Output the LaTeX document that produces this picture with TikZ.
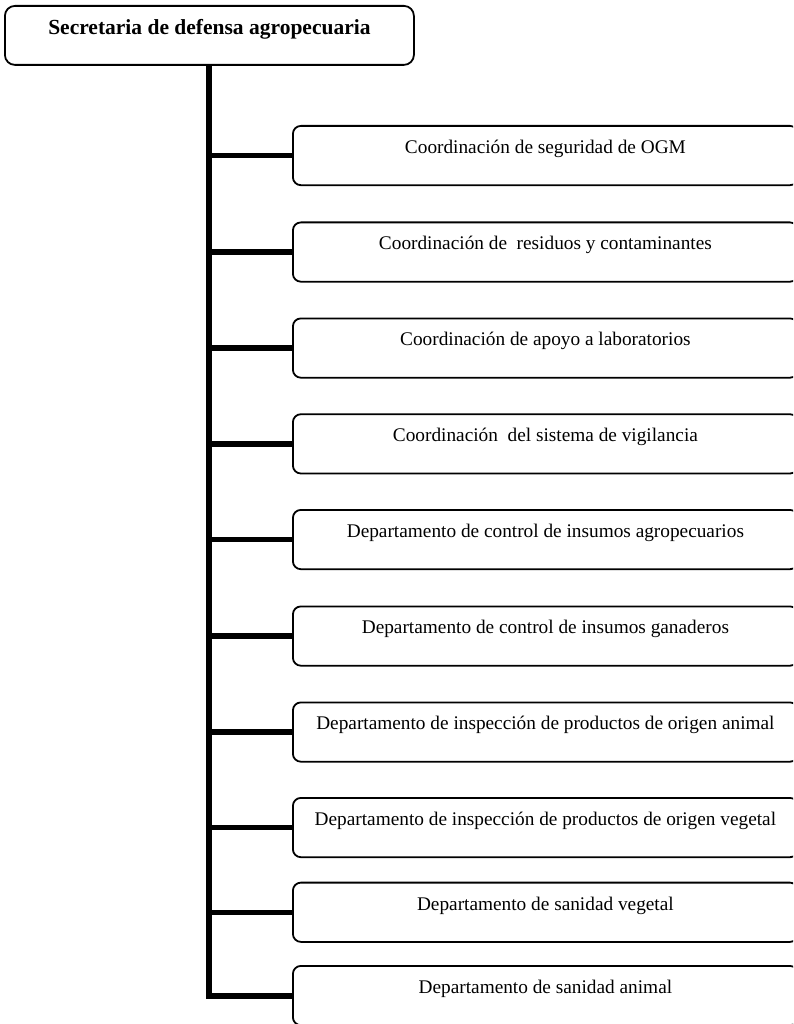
\documentclass[tikz,border=0pt]{standalone}
\usepackage{fontspec}
\setmainfont{Liberation Serif}
\begin{document}
\begin{tikzpicture}[x=1pt,y=-1pt,
  headbox/.style={draw=black, line width=1.8pt, rounded corners=10pt,
    inner sep=0pt, minimum width=409pt, text height=28.5pt, text depth=30.5pt,
    anchor=north west, font=\fontsize{21.5}{25}\selectfont\bfseries},
  unitbox/.style={draw=black, line width=1.8pt, rounded corners=8pt, fill=white,
    inner sep=0pt, minimum width=505pt, text height=27.5pt, text depth=31.8pt,
    anchor=north west, font=\fontsize{19.3}{23}\selectfont},
  trunk/.style={line width=6pt, line join=miter},
  branch/.style={line width=5.5pt}]
  \useasboundingbox (0,0) rectangle (793,1024);
  \clip (0,0) rectangle (793,1024);

  % head of the organisation
  \node[headbox] (head) at (4,5) {Secretaria de defensa agropecuaria};

  % subordinate units
  \node[unitbox] (u1)  at (292,125)   {Coordinación de seguridad de OGM};
  \node[unitbox] (u2)  at (292,221.5) {Coordinación de~ residuos y contaminantes};
  \node[unitbox] (u3)  at (292,317.5) {Coordinación de apoyo a laboratorios};
  \node[unitbox] (u4)  at (292,413.3) {Coordinación~ del sistema de vigilancia};
  \node[unitbox] (u5)  at (292,509)   {Departamento de control de insumos agropecuarios};
  \node[unitbox] (u6)  at (292,605.5) {Departamento de control de insumos ganaderos};
  \node[unitbox] (u7)  at (292,701.5) {Departamento de inspección de productos de origen animal};
  \node[unitbox] (u8)  at (292,797)   {Departamento de inspección de productos de origen vegetal};
  \node[unitbox] (u9)  at (292,881.7) {Departamento de sanidad vegetal};
  \node[unitbox] (u10) at (292,965)   {Departamento de sanidad animal};

  % vertical trunk ending in the last branch
  \draw[trunk] (head.south) |- (u10.west);

  % branches from the trunk
  \foreach \u in {u1,u2,u3,u4,u5,u6,u7,u8,u9}
    \draw[branch] (head.south |- \u.west) -- (\u.west);
\end{tikzpicture}
\end{document}
